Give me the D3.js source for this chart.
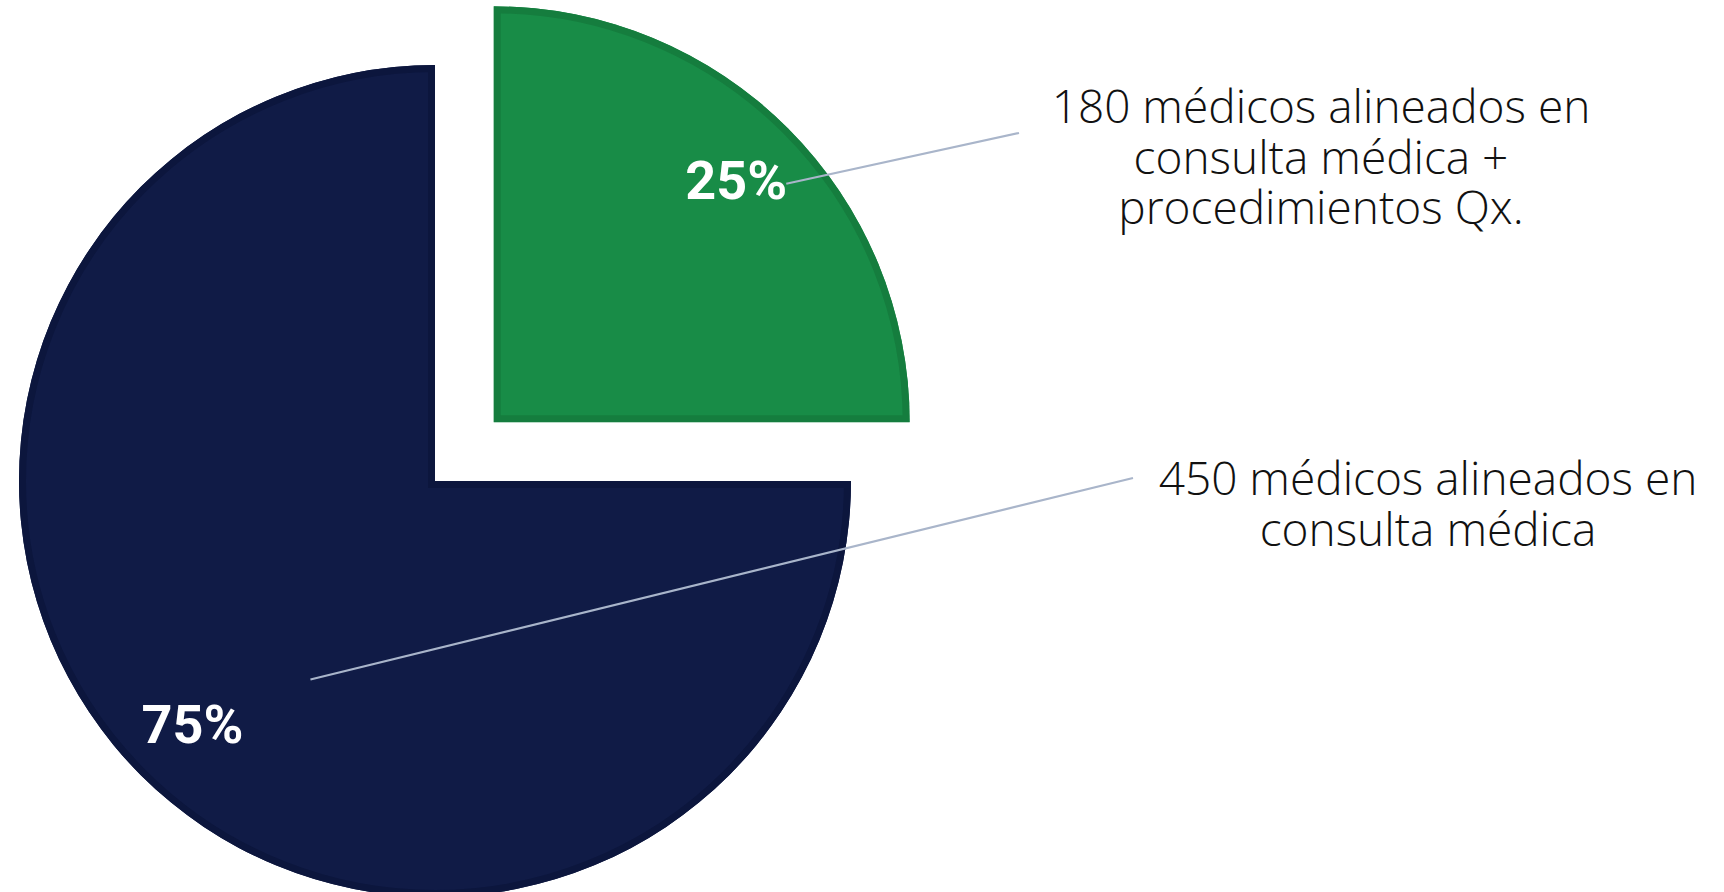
<!DOCTYPE html>
<html>
<head>
<meta charset="utf-8">
<title>Médicos alineados</title>
<script src="https://cdn.jsdelivr.net/npm/d3@7"></script>
<style>
  html, body { margin: 0; padding: 0; background: #fff; overflow: hidden; }
</style>
</head>
<body>
<script>
// data
var categories = ["consulta + Qx", "consulta"];
var shares = [25, 75];
var pctLabels = ["25%", "75%"];
var descLines = [
  ["180 médicos alineados en", "consulta médica +", "procedimientos Qx."],
  ["450 médicos alineados en", "consulta médica"]
];
var colors = ["#188c47", "#101b46"];
var borders = ["#157d3e", "#0c163d"];

var W = 1724, H = 892;
var cx = 435, cy = 481, r = 416;
var explode = [83, 0];

var svg = d3.select("body").append("svg")
  .attr("width", W)
  .attr("height", H);

var pie = d3.pie().sort(null).value(function(d){ return d; });
var arcs = pie(shares);

var arc = d3.arc().innerRadius(0).outerRadius(r);
var labelArc = d3.arc().innerRadius(343).outerRadius(343);

function offset(d, i) {
  var a = (d.startAngle + d.endAngle) / 2;
  return [cx + Math.sin(a) * explode[i], cy - Math.cos(a) * explode[i]];
}

var defs = svg.append("defs");
defs.selectAll("clipPath")
  .data(arcs)
  .enter()
  .append("clipPath")
  .attr("id", function(d, i){ return "clip" + i; })
  .append("path")
  .attr("d", arc);

var slices = svg.selectAll("g.slice")
  .data(arcs)
  .enter()
  .append("g")
  .attr("class", "slice")
  .attr("transform", function(d, i){ var o = offset(d, i); return "translate(" + o[0] + "," + o[1] + ")"; });

slices.append("path")
  .attr("d", arc)
  .attr("fill", function(d, i){ return colors[i]; });

// inner border, kept inside the slice
slices.append("path")
  .attr("d", arc)
  .attr("fill", "none")
  .attr("clip-path", function(d, i){ return "url(#clip" + i + ")"; })
  .attr("stroke", function(d, i){ return borders[i]; })
  .attr("stroke-width", 14);

// leader lines (start near the % label, end next to the text block)
var leadStart = [[50, 4], [118, -44]];
var leadEnd = [[1019, 133], [1133, 478]];

svg.selectAll("line.leader")
  .data(arcs)
  .enter()
  .append("line")
  .attr("class", "leader")
  .attr("x1", function(d, i){ var o = offset(d, i), c = labelArc.centroid(d); return o[0] + c[0] + leadStart[i][0]; })
  .attr("y1", function(d, i){ var o = offset(d, i), c = labelArc.centroid(d); return o[1] + c[1] + leadStart[i][1]; })
  .attr("x2", function(d, i){ return leadEnd[i][0]; })
  .attr("y2", function(d, i){ return leadEnd[i][1]; })
  .attr("stroke", "#a9b5ca")
  .attr("stroke-width", 2.2);

// percentage labels
svg.selectAll("text.pct")
  .data(arcs)
  .enter()
  .append("text")
  .attr("class", "pct")
  .attr("x", function(d, i){ var o = offset(d, i); return o[0] + labelArc.centroid(d)[0]; })
  .attr("y", function(d, i){ var o = offset(d, i); return o[1] + labelArc.centroid(d)[1] + 19; })
  .attr("text-anchor", "middle")
  .attr("font-family", "Roboto, 'Open Sans', sans-serif")
  .attr("font-weight", "bold")
  .attr("font-size", 54)
  .attr("fill", "#fff")
  .text(function(d, i){ return pctLabels[i]; });

// descriptive text blocks, one text per line
var blockPos = [[1321, 123], [1428, 495]];
var lineH = 50.5;

descLines.forEach(function(lines, i){
  svg.selectAll("text.desc" + i)
    .data(lines)
    .enter()
    .append("text")
    .attr("class", "desc" + i)
    .attr("x", blockPos[i][0])
    .attr("y", function(d, j){ return blockPos[i][1] + j * lineH; })
    .attr("text-anchor", "middle")
    .attr("font-family", "'Open Sans', sans-serif")
    .attr("font-weight", 300)
    .attr("font-size", 46)
    .attr("fill", "#111")
    .text(function(d){ return d; });
});
</script>
</body>
</html>
